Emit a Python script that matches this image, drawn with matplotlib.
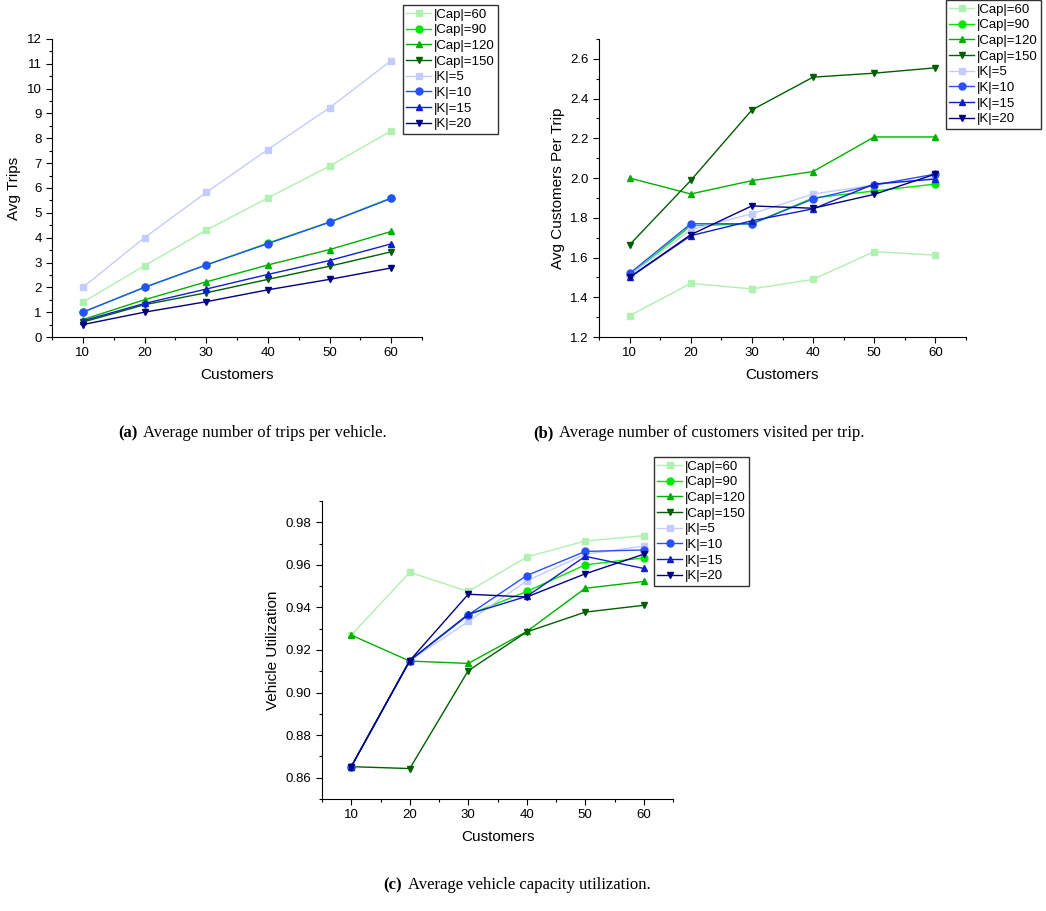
import numpy as np
import matplotlib.pyplot as plt
from matplotlib.ticker import MultipleLocator

plt.rcParams['font.family'] = ['Liberation Sans', 'DejaVu Sans']

W, H = 1046, 911

customers = [10, 20, 30, 40, 50, 60]
labels = ['|Cap|=60', '|Cap|=90', '|Cap|=120', '|Cap|=150',
          '|K|=5', '|K|=10', '|K|=15', '|K|=20']
colors = ['#b0f0b0', '#00e600', '#00b000', '#006000',
          '#c4ccff', '#2850ff', '#1020c8', '#000080']
markers = ['s', 'o', '^', 'v', 's', 'o', '^', 'v']

# (a) average trips per vehicle
trips = [
    [1.40, 2.87, 4.30, 5.60, 6.88, 8.30],
    [1.00, 2.00, 2.90, 3.78, 4.63, 5.60],
    [0.70, 1.50, 2.22, 2.90, 3.52, 4.25],
    [0.60, 1.30, 1.78, 2.32, 2.85, 3.43],
    [2.00, 4.00, 5.82, 7.55, 9.23, 11.13],
    [1.00, 2.00, 2.90, 3.76, 4.62, 5.58],
    [0.65, 1.35, 1.93, 2.52, 3.08, 3.75],
    [0.50, 1.00, 1.42, 1.90, 2.32, 2.78],
]

# (b) average customers per trip
cust_per_trip = [
    [1.307, 1.470, 1.442, 1.490, 1.630, 1.612],
    [1.510, 1.760, 1.770, 1.900, 1.935, 1.970],
    [2.000, 1.920, 1.987, 2.033, 2.207, 2.207],
    [1.664, 1.988, 2.343, 2.508, 2.528, 2.555],
    [1.510, 1.740, 1.820, 1.920, 1.965, 2.000],
    [1.520, 1.770, 1.770, 1.895, 1.965, 2.020],
    [1.500, 1.710, 1.785, 1.845, 1.970, 1.995],
    [1.500, 1.715, 1.860, 1.848, 1.918, 2.020],
]

# (c) vehicle utilization
utilization = [
    [0.9270, 0.9565, 0.9475, 0.9637, 0.9712, 0.9737],
    [0.8652, 0.9150, 0.9365, 0.9475, 0.9600, 0.9633],
    [0.9270, 0.9148, 0.9137, 0.9287, 0.9490, 0.9522],
    [0.8652, 0.8643, 0.9103, 0.9285, 0.9378, 0.9410],
    [0.8652, 0.9150, 0.9334, 0.9525, 0.9650, 0.9688],
    [0.8652, 0.9150, 0.9365, 0.9550, 0.9663, 0.9670],
    [0.8652, 0.9150, 0.9368, 0.9452, 0.9640, 0.9583],
    [0.8652, 0.9150, 0.9462, 0.9449, 0.9558, 0.9650],
]

fig = plt.figure(figsize=(W / 100, H / 100), dpi=100)


def px_axes(left, top, right, bottom):
    return fig.add_axes([left / W, 1 - bottom / H, (right - left) / W, (bottom - top) / H])


def draw(ax, data, ylabel, ylim, major, minor, fmt, leg_xy):
    for vals, lab, c, m in zip(data, labels, colors, markers):
        ax.plot(customers, vals, color=c, marker=m, markersize=5, linewidth=1, label=lab)
    ax.set_xlim(5, 65)
    ax.set_ylim(*ylim)
    ax.xaxis.set_major_locator(MultipleLocator(10))
    ax.xaxis.set_minor_locator(MultipleLocator(5))
    ax.yaxis.set_major_locator(MultipleLocator(major))
    ax.yaxis.set_minor_locator(MultipleLocator(minor))
    ax.yaxis.set_major_formatter(fmt)
    ax.spines['top'].set_visible(False)
    ax.spines['right'].set_visible(False)
    ax.tick_params(which='both', direction='out', labelsize=9.5, width=0.8)
    ax.tick_params(which='major', length=4)
    ax.tick_params(which='minor', length=2.5)
    ax.set_xlabel('Customers', fontsize=11, labelpad=6)
    ax.set_ylabel(ylabel, fontsize=11)
    leg = ax.legend(loc='upper left', bbox_to_anchor=(leg_xy[0] / W, 1 - leg_xy[1] / H),
                    bbox_transform=fig.transFigure, borderaxespad=0, fontsize=9.5,
                    fancybox=False, framealpha=1, edgecolor='#333333',
                    handlelength=1.9, handletextpad=0.2, labelspacing=0.26,
                    borderpad=0.25, markerscale=1.0)
    leg.get_frame().set_linewidth(1.0)


ax1 = px_axes(52, 39, 422, 337)
draw(ax1, trips, 'Avg Trips', (0, 12), 1, 0.5, '{x:g}', (403, 5))

ax2 = px_axes(599, 39, 966, 337)
draw(ax2, cust_per_trip, 'Avg Customers Per Trip', (1.2, 2.7), 0.2, 0.1, '{x:.1f}', (946, 0))

ax3 = px_axes(322, 501, 673, 799)
draw(ax3, utilization, 'Vehicle Utilization', (0.85, 0.99), 0.02, 0.01, '{x:.2f}', (654, 457))

# captions
serif = ['Liberation Serif', 'DejaVu Serif']
fig.text(118 / W, 1 - 433 / H, '(a)', fontsize=12, va='center', family=serif, weight='bold')
fig.text(143 / W, 1 - 433 / H, 'Average number of trips per vehicle.', fontsize=12, va='center', family=serif)
fig.text(533 / W, 1 - 433 / H, '(b)', fontsize=12, va='center', family=serif, weight='bold')
fig.text(559 / W, 1 - 433 / H, 'Average number of customers visited per trip.', fontsize=12, va='center', family=serif)
fig.text(383 / W, 1 - 885 / H, '(c)', fontsize=12, va='center', family=serif, weight='bold')
fig.text(408 / W, 1 - 885 / H, 'Average vehicle capacity utilization.', fontsize=12, va='center', family=serif)

fig.savefig('out.png', dpi=100)
